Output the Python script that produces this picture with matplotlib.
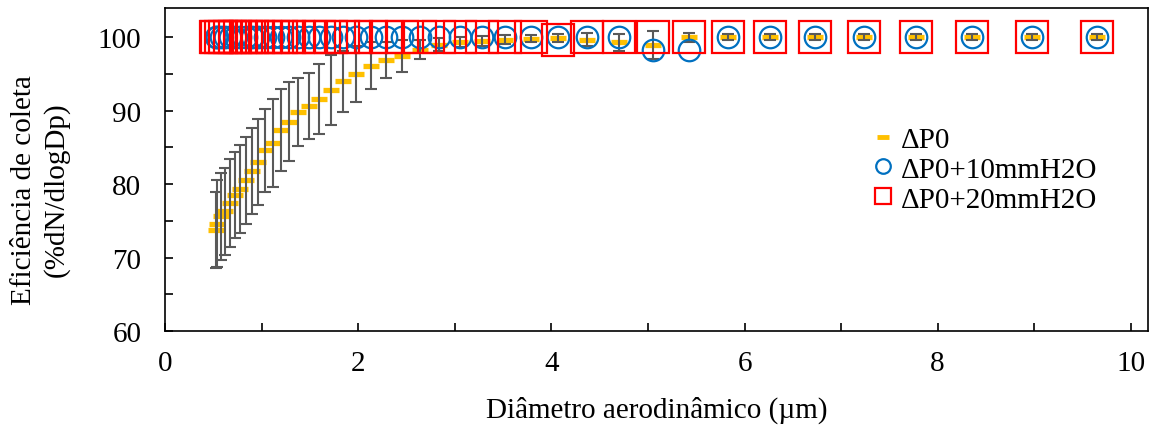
import matplotlib
matplotlib.use("Agg")
import matplotlib.pyplot as plt
from matplotlib.lines import Line2D
from matplotlib.ticker import MultipleLocator

# aerodynamic diameter (um), APS channel midpoints
diam = [0.523, 0.542, 0.583, 0.626, 0.673, 0.723, 0.777, 0.835, 0.898, 0.965,
        1.037, 1.114, 1.197, 1.286, 1.382, 1.486, 1.596, 1.715, 1.843, 1.981,
        2.129, 2.288, 2.458, 2.642, 2.839, 3.051, 3.278, 3.523, 3.786, 4.068,
        4.371, 4.698, 5.048, 5.425, 5.829, 6.264, 6.732, 7.234, 7.774, 8.354,
        8.977, 9.647]

eff_p0 = [73.8, 74.6, 75.6, 76.3, 77.4, 78.5, 79.3, 80.5, 81.8, 83.0,
          84.6, 85.6, 87.4, 88.5, 89.8, 90.6, 91.6, 92.8, 94.0, 95.0,
          96.1, 96.9, 97.5, 98.3, 99.0, 99.4, 99.5, 99.7, 99.8, 99.9,
          99.7, 99.3, 98.9, 100.0, 100.0, 100.0, 100.0, 100.0, 100.0, 100.0,
          100.0, 100.0]
err_p0 = [5.2, 5.9, 5.9, 5.9, 6.0, 5.9, 6.0, 5.9, 5.8, 5.9,
          5.7, 6.0, 5.6, 5.4, 4.6, 4.5, 4.8, 4.8, 4.2, 3.8,
          3.2, 2.5, 2.2, 1.3, 0.9, 0.7, 0.7, 0.6, 0.5, 0.6,
          0.9, 1.2, 1.9, 0.6, 0.4, 0.4, 0.4, 0.4, 0.4, 0.4,
          0.4, 0.4]

eff_p10 = [100.0] * 32 + [98.3, 98.3] + [100.0] * 8
eff_p20 = [100.0] * 29 + [99.6] + [100.0] * 12

labels = ["\u0394P0", "\u0394P0+10mmH2O", "\u0394P0+20mmH2O"]

plt.rcParams['font.family'] = ['Liberation Serif', 'DejaVu Serif']
plt.rcParams['font.size'] = 21

fig = plt.figure(figsize=(11.54, 4.27), dpi=100)
ax = fig.add_axes([0.143, 0.2225, 0.852, 0.7565])

ax.plot(diam, eff_p0, linestyle='none', marker='_', markersize=11,
        markeredgewidth=3.8, color='#FFC000', zorder=2)
ax.errorbar(diam, eff_p0, yerr=err_p0, fmt='none', ecolor='#595959',
            elinewidth=1.5, capsize=4, capthick=1.5, zorder=3)
ax.plot(diam, eff_p10, linestyle='none', marker='o', markersize=15.5,
        markerfacecolor='none', markeredgecolor='#0070C0',
        markeredgewidth=1.6, zorder=4)
ax.plot(diam, eff_p20, linestyle='none', marker='s', markersize=23.5,
        markerfacecolor='none', markeredgecolor='#FF0000',
        markeredgewidth=1.6, zorder=5)

ax.set_xlim(0, 10.18)
ax.set_ylim(60, 104)
ax.xaxis.set_major_locator(MultipleLocator(2))
ax.xaxis.set_minor_locator(MultipleLocator(1))
ax.yaxis.set_major_locator(MultipleLocator(10))
ax.yaxis.set_minor_locator(MultipleLocator(5))
ax.tick_params(which='both', direction='in', width=1.2, length=6)
ax.tick_params(axis='x', pad=14)
ax.tick_params(axis='y', pad=17)
for s in ax.spines.values():
    s.set_linewidth(1.2)

ax.set_xlabel("Di\u00e2metro aerodin\u00e2mico (\u00b5m)")
ax.xaxis.set_label_coords(0.5, -0.2)
ax.set_ylabel("Efici\u00eancia de coleta\n(%dN/dlogDp)", linespacing=1.3)
ax.yaxis.set_label_coords(-0.097, 0.44)

handles = [
    Line2D([], [], linestyle='none', marker='_', markersize=9,
           markeredgewidth=3.5, color='#FFC000'),
    Line2D([], [], linestyle='none', marker='o', markersize=10.5,
           markerfacecolor='none', markeredgecolor='#0070C0', markeredgewidth=1.6),
    Line2D([], [], linestyle='none', marker='s', markersize=12,
           markerfacecolor='none', markeredgecolor='#FF0000', markeredgewidth=1.6),
]
ax.legend(handles, labels, loc='center left', bbox_to_anchor=(0.72, 0.5),
          frameon=False, handlelength=0.7, handletextpad=0.25,
          labelspacing=0.12, borderpad=0, borderaxespad=0)

fig.savefig("out.png", dpi=100)
